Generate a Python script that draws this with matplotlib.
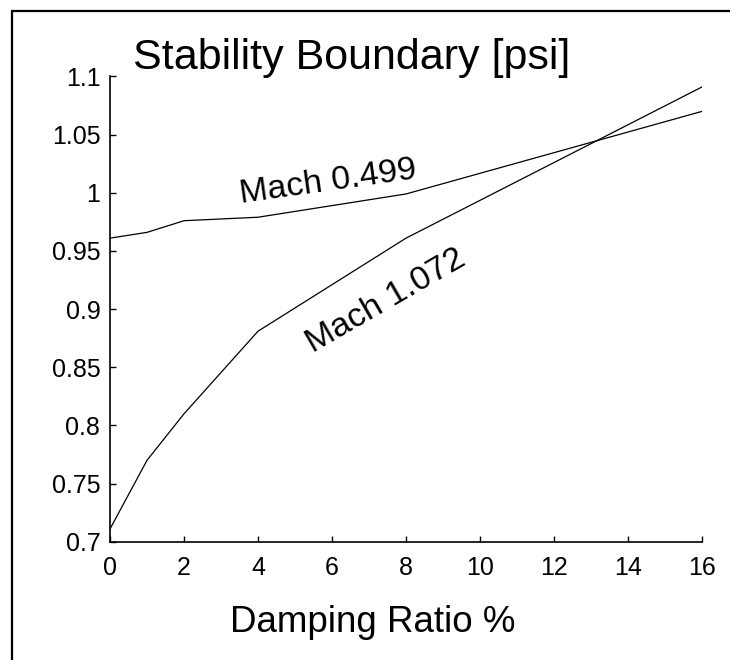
import matplotlib
matplotlib.use("Agg")
import matplotlib.pyplot as plt
from matplotlib.patches import Rectangle

plt.rcParams['font.family'] = ['Liberation Sans', 'DejaVu Sans']

# damping ratio (%) and stability boundary (psi)
damping = [0, 1, 2, 4, 8, 16]
mach_0499 = [0.961, 0.966, 0.976, 0.979, 0.999, 1.070]
mach_1072 = [0.711, 0.770, 0.810, 0.881, 0.961, 1.091]

x_ticks = [0, 2, 4, 6, 8, 10, 12, 14, 16]
y_ticks = [0.7, 0.75, 0.8, 0.85, 0.9, 0.95, 1.0, 1.05, 1.1]
y_tick_labels = ['0.7', '0.75', '0.8', '0.85', '0.9', '0.95', '1', '1.05', '1.1']

fig = plt.figure(figsize=(7.3, 6.6), dpi=100)
ax = fig.add_axes([0.1507, 0.1792, 0.8109, 0.7049])

ax.plot(damping, mach_0499, color='black', linewidth=0.9)
ax.plot(damping, mach_1072, color='black', linewidth=0.9)

ax.set_xlim(0, 16)
ax.set_ylim(0.7, 1.1)
ax.set_xticks(x_ticks)
ax.set_yticks(y_ticks)
ax.set_yticklabels(y_tick_labels)

ax.spines['top'].set_visible(False)
ax.spines['right'].set_visible(False)
for s in ['left', 'bottom']:
    ax.spines[s].set_linewidth(1.2)
ax.tick_params(axis='both', direction='in', length=4.5, width=1.0, labelsize=18)
ax.tick_params(axis='x', pad=10)
ax.tick_params(axis='y', pad=7)

# curve labels
ax.text(3.55, 0.991, 'Mach 0.499', fontsize=24.5, rotation=8,
        ha='left', va='baseline', rotation_mode='anchor')
ax.text(5.5, 0.862, 'Mach 1.072', fontsize=24.5, rotation=30,
        ha='left', va='baseline', rotation_mode='anchor')

fig.text(0.182, 0.8955, 'Stability Boundary [psi]', fontsize=31,
         ha='left', va='baseline')
fig.text(0.51, 0.042, 'Damping Ratio %', fontsize=26.5,
         ha='center', va='baseline')

# outer frame, open on the right and bottom edges
fig.patches.append(Rectangle((12 / 730, -0.1), 1.2, 1 - 11 / 660 + 0.1,
                             transform=fig.transFigure, fill=False,
                             edgecolor='black', linewidth=1.6))

fig.savefig('out.png', dpi=100, facecolor='white')
